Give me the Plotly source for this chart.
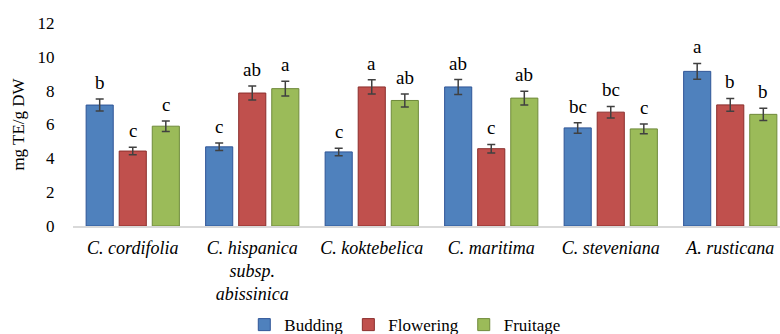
import plotly.graph_objects as go

categories = ["C. cordifolia", "C. hispanica<br>subsp.<br>abissinica", "C. koktebelica",
              "C. maritima", "C. steveniana", "A. rusticana"]
series_names = ["Budding", "Flowering", "Fruitage"]
budding = [7.15, 4.68, 4.38, 8.22, 5.80, 9.14]
flowering = [4.43, 7.86, 8.22, 4.57, 6.73, 7.16]
fruitage = [5.90, 8.12, 7.42, 7.56, 5.74, 6.60]
budding_err = [0.35, 0.22, 0.22, 0.44, 0.31, 0.47]
flowering_err = [0.22, 0.41, 0.42, 0.25, 0.34, 0.38]
fruitage_err = [0.31, 0.43, 0.39, 0.40, 0.29, 0.36]
budding_letters = ["b", "c", "c", "ab", "bc", "a"]
flowering_letters = ["c", "ab", "a", "c", "bc", "b"]
fruitage_letters = ["c", "a", "ab", "ab", "c", "b"]
y_ticks = [0, 2, 4, 6, 8, 10, 12]

colors = ["#4F81BD", "#C0504D", "#9BBB59"]
edges = ["#2F5597", "#8B2E2C", "#6F8A3A"]
values = [budding, flowering, fruitage]
errors = [budding_err, flowering_err, fruitage_err]
letters = [budding_letters, flowering_letters, fruitage_letters]

BARGAP = 0.17
BARGROUPGAP = 0.18
slot = (1 - BARGAP) / 3
xs = list(range(len(categories)))

fig = go.Figure()
for j in range(3):
    fig.add_trace(go.Bar(
        x=xs, y=values[j], name=series_names[j],
        marker=dict(color=colors[j], line=dict(color=edges[j], width=1)),
        error_y=dict(type="data", array=errors[j], visible=True,
                     color="#404040", thickness=1.5, width=4),
    ))

serif = "Liberation Serif"
annotations = []
for j in range(3):
    for i in xs:
        annotations.append(dict(
            x=i + (j - 1) * slot, y=values[j][i] + errors[j][i],
            xref="x", yref="y", text=letters[j][i], showarrow=False,
            yanchor="bottom", yshift=4,
            font=dict(family=serif, size=19, color="#000000"),
        ))

fig.update_layout(
    width=780, height=334,
    margin=dict(l=73, r=0, t=23, b=108, autoexpand=False),
    paper_bgcolor="white", plot_bgcolor="white",
    barmode="group", bargap=BARGAP, bargroupgap=BARGROUPGAP,
    font=dict(family=serif, size=17, color="#000000"),
    annotations=annotations,
    showlegend=True,
    legend=dict(orientation="h", x=0.47, xanchor="center", y=-0.488,
                yanchor="middle", font=dict(family=serif, size=17, color="#000000"),
                itemwidth=30, traceorder="normal"),
    xaxis=dict(range=[-0.5, -0.5 + 707 / 119.5], tickmode="array",
               tickvals=xs, ticktext=["<i>" + c + "</i>" for c in categories],
               showline=True, linecolor="#D9D9D9", linewidth=2,
               ticks="outside", ticklen=4, tickcolor="rgba(0,0,0,0)",
               showgrid=False, zeroline=False, automargin=False,
               tickfont=dict(family=serif, size=18)),
    yaxis=dict(range=[0, 12], tickvals=y_ticks, showgrid=False, zeroline=False,
               showline=False, ticks="outside", ticklen=14,
               tickcolor="rgba(0,0,0,0)", automargin=False,
               tickfont=dict(family=serif, size=17),
               title=dict(text="mg TE/g DW", font=dict(family=serif, size=17),
                          standoff=8)),
)

fig.write_html("out.html", config={"displayModeBar": False},
               post_script="document.body.style.margin='0';document.body.style.padding='0';")
